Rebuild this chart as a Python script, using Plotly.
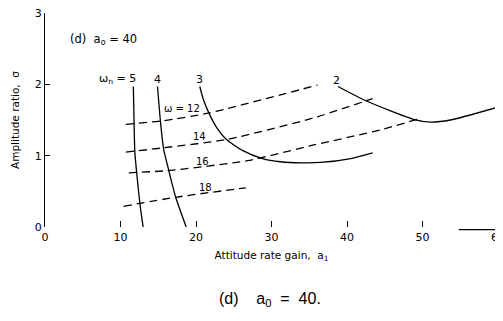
import plotly.graph_objects as go

# Solid curves: constant natural frequency omega_n
wn_names = ["5", "4", "3", "2"]
wn5_x = [11.7, 11.8, 11.9, 12.2, 12.6, 13.0]
wn5_y = [1.97, 1.45, 1.05, 0.70, 0.30, 0.0]
wn4_x = [14.9, 15.3, 15.7, 16.4, 17.3, 18.7]
wn4_y = [1.97, 1.47, 1.10, 0.79, 0.42, 0.0]
wn3_x = [20.5, 21.0, 21.7, 22.7, 24.0, 26.2, 28.8, 31.2, 34.0, 36.5, 40.5, 43.4]
wn3_y = [1.97, 1.78, 1.60, 1.40, 1.23, 1.07, 0.96, 0.915, 0.90, 0.905, 0.96, 1.04]
wn2_x = [38.8, 42.5, 48.8, 51.1, 53.7, 60.0]
wn2_y = [1.97, 1.77, 1.51, 1.47, 1.50, 1.68]

# Dashed curves: constant frequency omega
w_names = ["12", "14", "16", "18"]
w12_x = [10.7, 15.7, 21.8, 36.1]
w12_y = [1.44, 1.49, 1.60, 1.99]
w14_x = [10.7, 15.7, 24.2, 35.6, 43.4]
w14_y = [1.05, 1.11, 1.23, 1.53, 1.80]
w16_x = [11.1, 16.2, 26.8, 35.6, 44.4, 49.3]
w16_y = [0.76, 0.79, 0.93, 1.15, 1.36, 1.51]
w18_x = [10.4, 17.5, 26.6]
w18_y = [0.29, 0.42, 0.55]

x_ticks = [0, 10, 20, 30, 40, 50, 60]
y_ticks = [0, 1, 2, 3]

FONT = "DejaVu Sans"
fig = go.Figure()

for xs, ys in [(wn5_x, wn5_y), (wn4_x, wn4_y), (wn3_x, wn3_y), (wn2_x, wn2_y)]:
    fig.add_trace(go.Scatter(x=xs, y=ys, mode="lines",
                             line=dict(color="black", width=1.3, shape="spline", smoothing=0.6),
                             showlegend=False, hoverinfo="skip"))
for xs, ys in [(w12_x, w12_y), (w14_x, w14_y), (w16_x, w16_y), (w18_x, w18_y)]:
    fig.add_trace(go.Scatter(x=xs, y=ys, mode="lines",
                             line=dict(color="black", width=1.3, dash="8px,5px", shape="spline", smoothing=0.6),
                             showlegend=False, hoverinfo="skip"))

ann = []
def add(text, x, y, xanchor="center", size=10, xref="x", yref="y", family=FONT):
    ann.append(dict(text=text, x=x, y=y, xref=xref, yref=yref, xanchor=xanchor,
                    yanchor="middle", showarrow=False,
                    font=dict(family=family, size=size, color="black")))

add("(d)  a<sub>o</sub> = 40", 3.0, 2.63, xanchor="left", size=11.5)
add("ω<sub>n</sub> = " + wn_names[0], wn5_x[0] + 0.6, 2.07, xanchor="right", size=11)
add(wn_names[1], wn4_x[0], 2.07, size=11)
add(wn_names[2], wn3_x[0], 2.07, size=11)
add(wn_names[3], wn2_x[0] - 0.2, 2.05, size=11)
add("ω = " + w_names[0], 18.2, 1.66)
add(w_names[1], 20.5, 1.27)
add(w_names[2], 20.8, 0.92)
add(w_names[3], 21.2, 0.55)

add("(d)&nbsp;&nbsp;&nbsp; a<sub>0</sub>&nbsp; =&nbsp; 40.", 0.497, -0.34, size=16, xref="paper", yref="paper",
    family="Liberation Sans Narrow, Liberation Sans")

# short baseline stub at the right end of the x axis
fig.add_shape(type="line", x0=54.8, x1=60, y0=-0.012, y1=-0.012, xref="x", yref="paper",
              line=dict(color="black", width=1.2))

# The page body adds an 8px offset, so margins are set to land the plot area
# at the reference's pixel positions.
fig.update_layout(
    width=503, height=321,
    margin=dict(l=36.5, r=13, t=5, b=102),
    paper_bgcolor="white", plot_bgcolor="white",
    annotations=ann,
    font=dict(family=FONT, size=10, color="black"),
    xaxis=dict(range=[0, 60], tickvals=x_ticks, ticktext=[str(v) for v in x_ticks],
               automargin=False, ticklabeloverflow="allow",
               showgrid=False, zeroline=False, showline=False,
               ticks="inside", ticklen=6, tickcolor="black", tickwidth=1,
               tickfont=dict(size=11), ticklabelstandoff=2,
               title=dict(text="Attitude rate gain,  a<sub>1</sub>", font=dict(size=10.5), standoff=8)),
    yaxis=dict(range=[0, 3], tickvals=y_ticks, ticktext=[str(v) for v in y_ticks],
               automargin=False, ticklabeloverflow="allow",
               showgrid=False, zeroline=False, showline=True, linecolor="black", linewidth=1.3,
               ticks="inside", ticklen=5, tickcolor="black", tickwidth=1,
               tickfont=dict(size=11),
               title=dict(text="Amplitude ratio,  σ", font=dict(size=10.5), standoff=12)),
)

fig.write_html("out.html")
